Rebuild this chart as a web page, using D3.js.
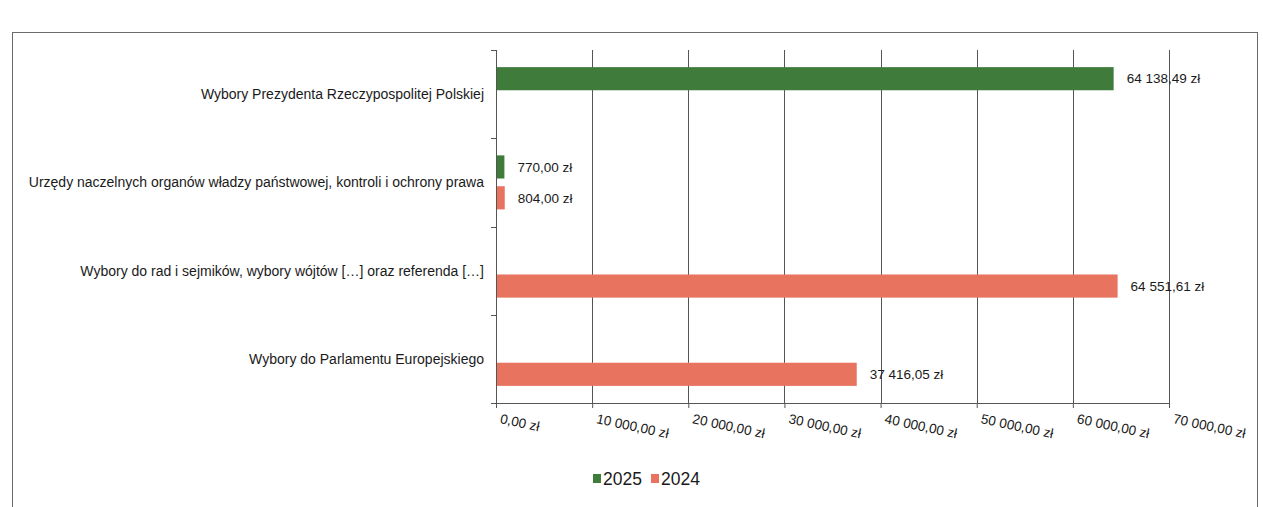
<!DOCTYPE html>
<html>
<head>
<meta charset="utf-8">
<script src="https://cdn.jsdelivr.net/npm/d3@7"></script>
<style>
  html, body { margin: 0; padding: 0; background: #ffffff; }
  svg { display: block; }
  text { font-family: "Liberation Sans", Arial, sans-serif; fill: #1a1a1a; }
</style>
</head>
<body>
<svg id="chart" width="1263" height="507"></svg>
<script>
// ---- data ----
const categories = [
  "Wybory Prezydenta Rzeczypospolitej Polskiej",
  "Urzędy naczelnych organów władzy państwowej, kontroli i ochrony prawa",
  "Wybory do rad i sejmików, wybory wójtów […] oraz referenda […]",
  "Wybory do Parlamentu Europejskiego"
];
const seriesNames = ["2025", "2024"];
const values2025 = [64138.49, 770.00, null, null];
const values2024 = [null, 804.00, 64551.61, 37416.05];
const tickValues = [0, 10000, 20000, 30000, 40000, 50000, 60000, 70000];
const tickLabels = ["0,00 zł", "10 000,00 zł", "20 000,00 zł", "30 000,00 zł",
                    "40 000,00 zł", "50 000,00 zł", "60 000,00 zł", "70 000,00 zł"];
const seriesColors = ["#3f7b3b", "#e8735e"];

// ---- layout ----
const svg = d3.select("#chart");
const plot = { left: 496, right: 1169, top: 50, bottom: 403 };

const pl = d3.formatLocale({ decimal: ",", thousands: "\u00a0", grouping: [3], currency: ["", " zł"] });
const fmt = v => pl.format(",.2f")(v).replace(/\u00a0/g, " ") + " zł";

const x = d3.scaleLinear().domain([0, 70000]).range([plot.left, plot.right]);
const y = d3.scaleBand().domain(categories).range([plot.top, plot.bottom]).padding(0);
const inner = d3.scaleBand().domain(seriesNames).range([-27, 27]).paddingInner(0.25);
const color = d3.scaleOrdinal().domain(seriesNames).range(seriesColors);

// outer frame
svg.append("rect").attr("x", 12.5).attr("y", 32.5).attr("width", 1245).attr("height", 520)
  .attr("fill", "none").attr("stroke", "#6b6b6b").attr("stroke-width", 1);

// gridlines
svg.append("g").selectAll("line").data(tickValues.slice(1)).join("line")
  .attr("x1", d => Math.round(x(d)) + 0.5).attr("x2", d => Math.round(x(d)) + 0.5)
  .attr("y1", plot.top).attr("y2", plot.bottom)
  .attr("stroke", "#555").attr("stroke-width", 1);

// bars
const rows = [];
categories.forEach((c, i) => {
  [values2025[i], values2024[i]].forEach((v, j) => {
    if (v != null) rows.push({ cat: c, series: seriesNames[j], value: v });
  });
});
const center = c => y(c) + y.bandwidth() / 2;

svg.append("g").selectAll("rect").data(rows).join("rect")
  .attr("x", x(0) + 1)
  .attr("y", d => center(d.cat) + inner(d.series))
  .attr("width", d => x(d.value) - x(0))
  .attr("height", inner.bandwidth())
  .attr("fill", d => color(d.series));

// value labels
svg.append("g").selectAll("text").data(rows).join("text")
  .attr("x", d => x(d.value) + 14)
  .attr("y", d => center(d.cat) + inner(d.series) + inner.bandwidth() / 2)
  .attr("dy", "0.35em")
  .attr("font-size", 13.5)
  .text(d => fmt(d.value));

// x axis
const xAxis = d3.axisBottom(x).tickValues(tickValues).tickSize(5).tickFormat((d, i) => tickLabels[i]);
const gx = svg.append("g").attr("transform", `translate(0,${plot.bottom})`).call(xAxis);
gx.select(".domain").attr("stroke", "#555").attr("d", `M${plot.left},0.5H${plot.right}`);
gx.selectAll(".tick line").attr("stroke", "#555");
gx.selectAll(".tick text")
  .attr("font-size", 13.5)
  .attr("fill", "#1a1a1a")
  .attr("text-anchor", "start")
  .attr("x", 0).attr("y", 0).attr("dy", 0)
  .attr("transform", "translate(3,20) rotate(12)");

// y axis
const yAxis = d3.axisLeft(y).tickSize(0).tickFormat(d => d);
const gy = svg.append("g").attr("transform", `translate(${plot.left},0)`).call(yAxis);
gy.select(".domain").attr("stroke", "#555").attr("d", `M0.5,${plot.top}V${plot.bottom}`);
gy.selectAll(".tick text").attr("font-size", 14).attr("fill", "#1a1a1a").attr("x", -12).attr("dy", "0.35em");
// category boundary ticks
svg.append("g").selectAll("line").data(categories.concat([null])).join("line")
  .attr("x1", plot.left - 5).attr("x2", plot.left)
  .attr("y1", (d, i) => Math.round(plot.top + i * y.step()) + 0.5)
  .attr("y2", (d, i) => Math.round(plot.top + i * y.step()) + 0.5)
  .attr("stroke", "#555");

// legend
const legend = svg.append("g").attr("transform", "translate(593,479)");
const lx = [0, 58];
seriesNames.forEach((s, i) => {
  const g = legend.append("g").attr("transform", `translate(${lx[i]},0)`);
  g.append("rect").attr("x", 0).attr("y", -5).attr("width", 8).attr("height", 9).attr("fill", color(s));
  g.append("text").attr("x", 10).attr("y", 0).attr("dy", "0.35em").attr("font-size", 17.5).text(s);
});
</script>
</body>
</html>
